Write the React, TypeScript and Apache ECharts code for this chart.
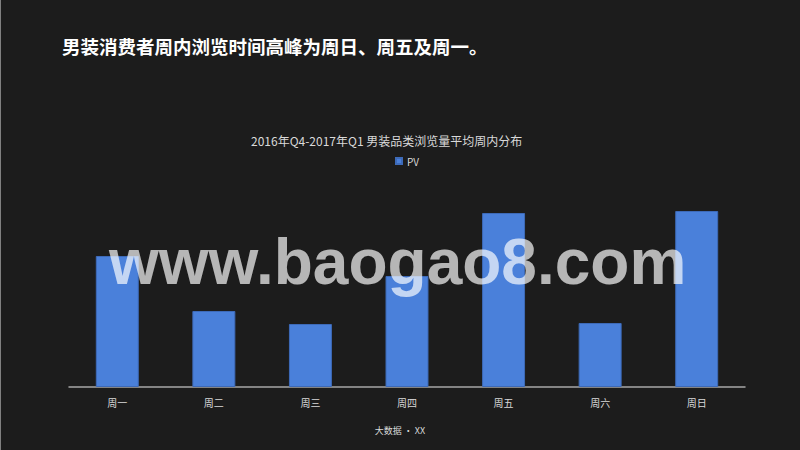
import React, { useEffect, useRef } from "react";
import * as echarts from "echarts";

const headline = "男装消费者周内浏览时间高峰为周日、周五及周一。";
const chartTitle = "2016年Q4-2017年Q1 男装品类浏览量平均周内分布";
const footer = "大数据 · XX";
const watermark = "www.baogao8.com";
const seriesName = "PV";
const categories = ["周一", "周二", "周三", "周四", "周五", "周六", "周日"];
const pvValues = [131, 76, 63, 111, 174, 64, 176];

export default function App() {
  const ref = useRef<HTMLDivElement>(null);
  useEffect(() => {
    if (!ref.current) return;
    const chart = echarts.init(ref.current, undefined, { renderer: "svg" });
    chart.setOption({
      animation: false,
      backgroundColor: "#1c1c1c",
      title: {
        text: chartTitle,
        left: 246,
        top: 129,
        textStyle: {
          color: "#d9d9d9",
          fontSize: 12,
          fontWeight: "normal",
          fontFamily: "Noto Sans CJK SC",
        },
      },
      legend: {
        data: [seriesName],
        left: 390,
        top: 151,
        itemWidth: 6,
        itemHeight: 6,
        icon: "rect",
        itemGap: 4,
        textStyle: { color: "#d9d9d9", fontSize: 10, fontFamily: "Noto Sans CJK SC" },
      },
      grid: { left: 69, right: 55, top: 187, bottom: 63, containLabel: false },
      xAxis: {
        type: "category",
        data: categories,
        axisLine: { lineStyle: { color: "#a6a6a6", width: 1.5 } },
        axisTick: { show: false },
        axisLabel: {
          color: "#d9d9d9",
          fontSize: 10,
          margin: 10,
          fontFamily: "Noto Sans CJK SC",
        },
      },
      yAxis: {
        type: "value",
        min: 0,
        max: 200,
        show: false,
        splitLine: { show: false },
      },
      series: [
        {
          name: seriesName,
          type: "bar",
          data: pvValues,
          barWidth: "44.5%",
          itemStyle: { color: "#4a80da", borderColor: "#3d6ab8", borderWidth: 1 },
        },
      ],
      graphic: [
        {
          type: "line",
          shape: { x1: 0.5, y1: 0, x2: 0.5, y2: 450 },
          style: { stroke: "#808080", lineWidth: 1 },
        },
        {
          type: "text",
          left: 62,
          top: 37,
          style: {
            text: headline,
            fill: "#ffffff",
            font: "bold 18.5px 'Noto Sans CJK SC'",
          },
        },
        {
          type: "text",
          left: "center",
          top: 426,
          style: {
            text: footer,
            fill: "#d9d9d9",
            font: "9px 'Noto Sans CJK SC'",
          },
        },
        {
          type: "text",
          x: 109,
          y: 262,
          z: 100,
          style: {
            text: watermark,
            fill: "rgba(255,255,255,0.68)",
            font: "bold 64px 'Liberation Sans'",
            verticalAlign: "middle",
            align: "left",
          },
        },
      ],
    });
    return () => chart.dispose();
  }, []);
  return (
    <div
      ref={ref}
      style={{ position: "absolute", left: 0, top: 0, width: 800, height: 450 }}
    />
  );
}
